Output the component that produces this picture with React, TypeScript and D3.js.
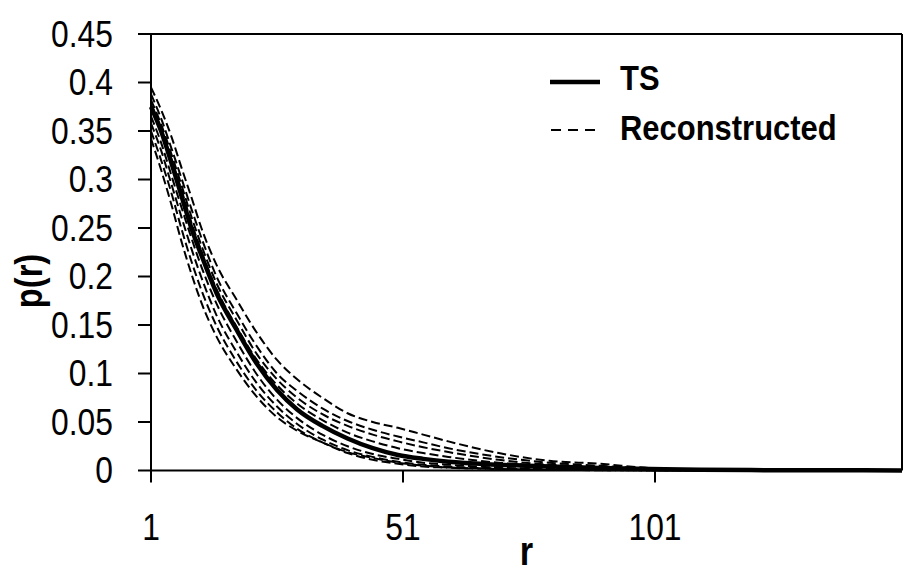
import React from "react";
import * as d3 from "d3";

const rValues = [1, 3, 5, 7, 9, 11, 14, 18, 22, 26, 30, 35, 40, 45, 50, 55, 60, 70, 80, 90, 100, 110, 120, 135, 150];

const tsSeries = [0.375, 0.35, 0.318, 0.284, 0.25, 0.222, 0.183, 0.145, 0.11, 0.083, 0.063, 0.046, 0.033, 0.023, 0.016, 0.012, 0.009, 0.006, 0.004, 0.0025, 0.0015, 0.0008, 0.0004, 0.0002, 0.0001];

const rec1 = [0.395, 0.372, 0.345, 0.313, 0.282, 0.25, 0.212, 0.176, 0.142, 0.114, 0.094, 0.075, 0.059, 0.05, 0.044, 0.037, 0.03, 0.018, 0.01, 0.007, 0.0025, 0.001, 0.0005, 0.0002, 0.0001];
const rec2 = [0.388, 0.363, 0.333, 0.302, 0.27, 0.24, 0.2, 0.162, 0.128, 0.1, 0.082, 0.064, 0.051, 0.042, 0.035, 0.029, 0.023, 0.014, 0.008, 0.005, 0.002, 0.001, 0.0004, 0.0002, 0.0001];
const rec3 = [0.382, 0.357, 0.327, 0.295, 0.262, 0.232, 0.193, 0.155, 0.12, 0.094, 0.075, 0.058, 0.046, 0.037, 0.03, 0.024, 0.019, 0.011, 0.006, 0.004, 0.0015, 0.0008, 0.0003, 0.0001, 0];
const rec4 = [0.378, 0.352, 0.322, 0.29, 0.256, 0.226, 0.187, 0.148, 0.114, 0.088, 0.069, 0.052, 0.039, 0.03, 0.023, 0.018, 0.014, 0.008, 0.005, 0.003, 0.0012, 0.0006, 0.0003, 0.0001, 0];
const rec5 = [0.365, 0.338, 0.305, 0.272, 0.24, 0.21, 0.172, 0.133, 0.099, 0.073, 0.054, 0.037, 0.025, 0.017, 0.012, 0.008, 0.006, 0.003, 0.0015, 0.0008, 0.0004, 0.0002, 0.0001, 0, 0];
const rec6 = [0.358, 0.33, 0.296, 0.262, 0.229, 0.199, 0.16, 0.122, 0.09, 0.066, 0.048, 0.032, 0.021, 0.014, 0.009, 0.006, 0.004, 0.002, 0.001, 0.0005, 0.0003, 0.0001, 0, 0, 0];
const rec7 = [0.35, 0.32, 0.287, 0.25, 0.216, 0.186, 0.149, 0.112, 0.082, 0.06, 0.043, 0.029, 0.018, 0.011, 0.007, 0.004, 0.003, 0.0015, 0.0008, 0.0004, 0.0002, 0.0001, 0, 0, 0];
const rec8 = [0.342, 0.31, 0.275, 0.237, 0.203, 0.173, 0.138, 0.104, 0.076, 0.055, 0.041, 0.029, 0.019, 0.013, 0.008, 0.005, 0.003, 0.0015, 0.0007, 0.0003, 0.0001, 0, 0, 0, 0];

const reconstructedSeries = [rec1, rec2, rec3, rec4, rec5, rec6, rec7, rec8];

const xTicks = [1, 51, 101];
const yTicks = [0, 0.05, 0.1, 0.15, 0.2, 0.25, 0.3, 0.35, 0.4, 0.45];
const yTickLabels = ["0", "0.05", "0.1", "0.15", "0.2", "0.25", "0.3", "0.35", "0.4", "0.45"];
const legendLabels = ["TS", "Reconstructed"];

const W = 907;
const H = 583;
const FONT = "'Liberation Sans', Arial, sans-serif";
const SX = 0.86;

function NarrowText(props: {
  x: number;
  y: number;
  anchor?: "start" | "middle" | "end";
  size: number;
  bold?: boolean;
  rotate?: number;
  dy?: string;
  children: React.ReactNode;
}) {
  const { x, y, anchor = "start", size, bold, rotate = 0, dy, children } = props;
  return (
    <g transform={`translate(${x},${y}) rotate(${rotate}) scale(${SX},1)`}>
      <text
        x={0}
        y={0}
        dy={dy}
        textAnchor={anchor}
        fontFamily={FONT}
        fontSize={size}
        fontWeight={bold ? "bold" : "normal"}
        fill="#000"
      >
        {children}
      </text>
    </g>
  );
}

export default function App() {
  const left = 151, right = 902, top = 34, bottom = 470.5;
  const x = d3.scaleLinear().domain([1, 150]).range([left, right]);
  const y = d3.scaleLinear().domain([0, 0.45]).range([bottom, top]);
  const line = d3
    .line<number>()
    .x((_, i) => x(rValues[i]))
    .y((d) => y(d))
    .curve(d3.curveMonotoneX);

  return (
    <svg width={W} height={H} style={{ position: "absolute", left: 0, top: 0, background: "#fff" }}>
      <rect x={0} y={0} width={W} height={H} fill="#fff" />
      {reconstructedSeries.map((s, i) => (
        <path key={i} d={line(s) || ""} fill="none" stroke="#000" strokeWidth={2} strokeDasharray="9,4" />
      ))}
      <path d={line(tsSeries) || ""} fill="none" stroke="#000" strokeWidth={4.5} />

      <line x1={left} x2={right} y1={top} y2={top} stroke="#000" strokeWidth={2} />
      <line x1={right} x2={right} y1={top} y2={bottom} stroke="#000" strokeWidth={2} />
      <line x1={left} x2={left} y1={top} y2={bottom} stroke="#000" strokeWidth={2} />
      <line x1={left} x2={right} y1={bottom} y2={bottom} stroke="#000" strokeWidth={2} />

      {yTicks.map((t, i) => (
        <g key={i}>
          <line x1={left - 13} x2={left} y1={y(t)} y2={y(t)} stroke="#000" strokeWidth={2} />
          <NarrowText x={113} y={y(t)} dy="0.35em" anchor="end" size={37}>
            {yTickLabels[i]}
          </NarrowText>
        </g>
      ))}
      {xTicks.map((t) => (
        <g key={t}>
          <line x1={x(t)} x2={x(t)} y1={bottom} y2={bottom + 12} stroke="#000" strokeWidth={2} />
          <NarrowText x={x(t)} y={540} anchor="middle" size={37}>
            {t}
          </NarrowText>
        </g>
      ))}

      <NarrowText x={(left + right) / 2} y={565} anchor="middle" size={40} bold>
        r
      </NarrowText>
      <NarrowText x={42} y={281} anchor="middle" size={38} bold rotate={-90}>
        p(r)
      </NarrowText>

      <line x1={550} x2={600} y1={82} y2={82} stroke="#000" strokeWidth={4.5} />
      <NarrowText x={620} y={90} size={36} bold>
        {legendLabels[0]}
      </NarrowText>
      <line x1={551} x2={601} y1={130} y2={130} stroke="#000" strokeWidth={2} strokeDasharray="10,7" />
      <NarrowText x={620} y={140} size={36} bold>
        {legendLabels[1]}
      </NarrowText>
    </svg>
  );
}
